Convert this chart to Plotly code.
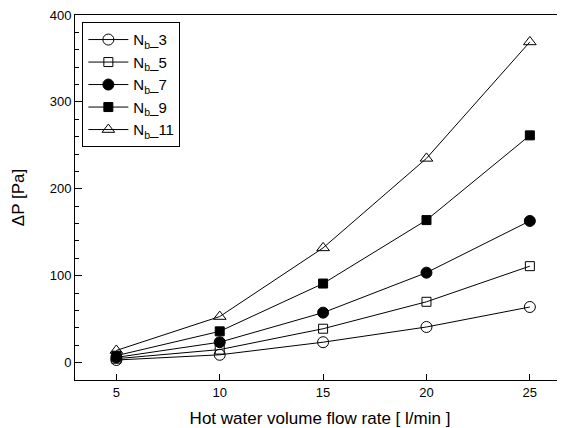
import plotly.graph_objects as go

flow = [5, 10, 15, 20, 25]
nb3 = [3, 9, 23.5, 41, 64]
nb5 = [4.5, 15, 39, 70, 111]
nb7 = [6, 23.5, 57.5, 103.5, 163]
nb9 = [8, 36, 91, 164, 261.5]
nb11 = [14, 53, 132, 235, 369]

series = [
    ("N<sub>b</sub>_3", nb3, "circle-open", 11),
    ("N<sub>b</sub>_5", nb5, "square-open", 9),
    ("N<sub>b</sub>_7", nb7, "circle", 11),
    ("N<sub>b</sub>_9", nb9, "square", 9),
    ("N<sub>b</sub>_11", nb11, "triangle-up-open", 11),
]

fig = go.Figure()
for name, vals, sym, sz in series:
    fig.add_trace(go.Scatter(
        x=flow, y=vals, name=name, mode="lines+markers",
        line=dict(color="black", width=1),
        marker=dict(symbol=sym, size=sz, color="black",
                    line=dict(color="black", width=1)),
    ))

font = "Liberation Sans, Arial, sans-serif"
fig.update_layout(
    width=557, height=420,
    margin=dict(l=67, r=0, t=7, b=48),
    paper_bgcolor="white", plot_bgcolor="white",
    font=dict(family=font, color="black", size=13),
    showlegend=True,
    legend=dict(x=0.015, y=0.98, xanchor="left", yanchor="top",
                bordercolor="black", borderwidth=1, bgcolor="white",
                itemwidth=40,
                font=dict(size=15, family=font)),
    xaxis=dict(range=[3, 26.7], tickvals=[5, 10, 15, 20, 25],
               ticks="inside", ticklen=6, tickcolor="black",
               showline=True, linecolor="black", linewidth=1, mirror=True,
               showgrid=False, zeroline=False,
               title=dict(text="Hot water volume flow rate [ l/min ]",
                          font=dict(size=17), standoff=16)),
    yaxis=dict(range=[-20, 400], tickvals=[0, 100, 200, 300, 400],
               ticks="inside", ticklen=7, tickcolor="black",
               ticklabeloverflow="allow",
               minor=dict(dtick=20, ticks="inside", ticklen=4, tickcolor="black"),
               showline=True, linecolor="black", linewidth=1, mirror=False,
               showgrid=False, zeroline=False,
               title=dict(text="ΔP [Pa]", font=dict(size=17), standoff=20)),
)

fig.write_html("out.html")
